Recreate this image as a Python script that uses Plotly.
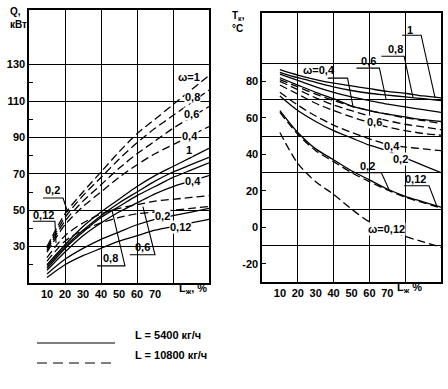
import plotly.graph_objects as go

# ---------------- data ----------------
L_pct = [10, 20, 30, 40, 50, 60, 70, 80, 90, 100]
x_ticks = [10, 20, 30, 40, 50, 60, 70]
q_ticks = [30, 50, 70, 90, 110, 130]
t_ticks = [-20, 0, 20, 40, 60, 80]

# Q, kW  (solid: L = 5400 kg/h)
q5400_w1 = [20, 31, 41, 49, 56, 63, 69, 74, 79, 84]
q5400_w08 = [19, 30, 39, 47, 54, 60, 66, 71, 75, 79]
q5400_w06 = [18, 29, 38, 46, 52, 58, 63, 68, 72, 76]
q5400_w04 = [17, 27, 36, 43, 49, 54, 59, 63, 66, 69]
q5400_w02 = [15, 23, 29, 34, 38, 42, 45, 47, 49, 51]
q5400_w012 = [13, 20, 25, 29, 33, 36, 39, 41, 43, 45]
# Q, kW  (dashed: L = 10800 kg/h)
q10800_w1 = [30, 48, 60, 71, 82, 92, 100, 108, 116, 124]
q10800_w08 = [29, 46, 58, 68, 78, 87, 95, 102, 109, 116]
q10800_w06 = [28, 44, 55, 64, 73, 81, 88, 95, 101, 107]
q10800_w04 = [27, 42, 52, 60, 68, 75, 81, 86, 91, 96]
q10800_w02 = [24, 36, 43, 48, 51, 53, 55, 56, 57, 58]
q10800_w012 = [22, 33, 39, 43, 46, 48, 49, 50, 51, 52]

# T_k, °C  (solid: L = 5400 kg/h)
t5400_w1 = [86.5, 83.5, 81, 79, 77.5, 76, 74.5, 73.5, 72, 71]
t5400_w08 = [85, 82, 79.5, 77, 75, 73.5, 72.5, 71.5, 70.5, 69.5]
t5400_w06 = [84, 80.5, 77, 74, 71.5, 69.5, 67.5, 66, 64.5, 63]
t5400_w04 = [82, 78, 74, 70.5, 66.5, 64, 62, 60.5, 59, 58]
t5400_w02 = [72, 64, 58, 53, 49, 45, 42, 38, 34, 30]
t5400_w012 = [64, 52, 43, 37, 31, 26, 21, 17, 14, 11]
# T_k, °C  (dashed: L = 10800 kg/h)
t10800_w1 = [81, 77, 73, 69.5, 66.5, 64, 62, 60, 58.5, 57]
t10800_w08 = [80, 75.5, 71, 67, 64, 61, 58.5, 56.5, 55, 53.5]
t10800_w06 = [78, 73, 68, 64, 60.5, 57.5, 55, 53, 51.5, 50.5]
t10800_w04 = [74, 67, 61, 56, 52, 48.5, 45.5, 44, 43, 42]
t10800_w02 = [63, 51, 42, 36, 30, 25, 20.5, 16.5, 13.5, 10.5]
t10800_w012 = [52, 35, 25, 18, 10, 3, -1, -5, -8, -11]

# ---------------- figure ----------------
INK = "black"
FONT = "Liberation Sans Narrow, Liberation Sans, Arial, sans-serif"
DASH = "8px,4px"
GRID_W = 1.0

fig = go.Figure()


def add_curve(ys, dash, xa, ya):
    fig.add_trace(go.Scatter(
        x=L_pct, y=ys, mode="lines", xaxis=xa, yaxis=ya,
        line=dict(color=INK, width=1.3, dash=dash, shape="spline", smoothing=0.8),
        showlegend=False, hoverinfo="skip"))


for ys in [q5400_w1, q5400_w08, q5400_w06, q5400_w04, q5400_w02, q5400_w012]:
    add_curve(ys, "solid", "x", "y")
for ys in [q10800_w1, q10800_w08, q10800_w06, q10800_w04, q10800_w02, q10800_w012]:
    add_curve(ys, DASH, "x", "y")
for ys in [t5400_w1, t5400_w08, t5400_w06, t5400_w04, t5400_w02, t5400_w012]:
    add_curve(ys, "solid", "x2", "y2")
for ys in [t10800_w1, t10800_w08, t10800_w06, t10800_w04, t10800_w02, t10800_w012]:
    add_curve(ys, DASH, "x2", "y2")

tickfont = dict(family=FONT, size=11, color=INK, weight="bold")


def xaxis(domain, anchor):
    return dict(domain=domain, anchor=anchor, range=[0, 100],
                tickmode="array", tickvals=x_ticks, ticktext=[str(v) for v in x_ticks],
                showgrid=False, ticks="", zeroline=False,
                showline=True, mirror=True, linecolor=INK, linewidth=1.6,
                tickfont=tickfont, automargin=False,
                minor=dict(tickmode="array", tickvals=[20, 40, 60, 80], showgrid=True,
                           gridcolor=INK, gridwidth=GRID_W, ticks=""))


fig.update_layout(
    width=448, height=389,
    margin=dict(l=0, r=0, t=0, b=0),
    paper_bgcolor="white", plot_bgcolor="white",
    font=dict(family=FONT, color=INK),
    xaxis=xaxis([29 / 448, 209 / 448], "y"),
    xaxis2=xaxis([262 / 448, 441 / 448], "y2"),
    yaxis=dict(domain=[1 - 283 / 389, 1 - 10 / 389], anchor="x", range=[10, 160],
               tickmode="array", tickvals=q_ticks, ticktext=[str(v) for v in q_ticks],
               showgrid=True, gridcolor=INK, gridwidth=GRID_W, ticks="", zeroline=False,
               showline=True, mirror=True, linecolor=INK, linewidth=1.6,
               tickfont=tickfont, automargin=False,
               minor=dict(tickmode="array", tickvals=[20, 40, 60, 80, 100, 120],
                          ticks="inside", ticklen=4, tickcolor=INK, showgrid=False)),
    yaxis2=dict(domain=[1 - 282 / 389, 1 - 13 / 389], anchor="x2", range=[-30, 117.5],
                tickmode="array", tickvals=t_ticks, ticktext=[str(v) for v in t_ticks],
                showgrid=False, ticks="inside", ticklen=4, tickcolor=INK, zeroline=False,
                showline=True, mirror=True, linecolor=INK, linewidth=1.6,
                tickfont=tickfont, automargin=False,
                minor=dict(tickmode="array", tickvals=[-10, 10, 30, 50, 70, 90],
                           showgrid=True, gridcolor=INK, gridwidth=GRID_W, ticks="")),
)

lab_font = dict(family=FONT, size=11, color=INK, weight="bold")

# in-line curve labels (break the line)
inline_labels = [
    ("x", "y", "ω=1", 89, 123), ("x", "y", "0,8", 91, 112), ("x", "y", "0,6", 90.5, 103),
    ("x", "y", "0,4", 89.5, 91), ("x", "y", "1", 89, 83), ("x", "y", "0,4", 91, 66),
    ("x", "y", "0,2", 74, 47), ("x", "y", "0,12", 84, 40.5),
    ("x2", "y2", "0,6", 62.8, 57.8), ("x2", "y2", "0,4", 72.8, 44.6),
    ("x2", "y2", "0,2", 77.5, 37.5), ("x2", "y2", "ω=0,12", 69.5, -1),
]
for xr, yr, txt, xv, yv in inline_labels:
    fig.add_annotation(xref=xr, yref=yr, x=xv, y=yv, text=txt, showarrow=False,
                       font=lab_font, bgcolor="white", borderpad=0)

# leader labels: text, text pos, underline (x0, x1, y), leader end point
leader_labels = [
    ("x", "y", "0,2", 13, 61, 7.8, 18.9, 56.7, 21.5, 49),
    ("x", "y", "0,12", 8, 47.5, 2.2, 14.4, 43.9, 15, 32),
    ("x", "y", "0,8", 45, 23.5, 37.8, 53.3, 19.4, 46, 50.5),
    ("x", "y", "0,6", 63, 30, 56, 70, 25.5, 63.3, 52),
    ("x2", "y2", "0,6", 59.4, 91, 52.8, 65.6, 87.3, 69.4, 69.8),
    ("x2", "y2", "0,8", 74.4, 97.5, 66.7, 79.4, 93.8, 84.4, 70.9),
    ("x2", "y2", "1", 82.8, 108, 78.3, 88.9, 105.3, 96.7, 70.9),
    ("x2", "y2", "0,2", 59, 33.5, 54.4, 66.7, 29.9, 71, 20.6),
    ("x2", "y2", "0,12", 86, 26.5, 79.4, 93.3, 22.8, 97.8, 11.3),
]
for xr, yr, txt, tx, ty, u0, u1, uy, ex, ey in leader_labels:
    fig.add_annotation(xref=xr, yref=yr, x=tx, y=ty, text=txt, showarrow=False, font=lab_font)
    fig.add_shape(type="path", xref=xr, yref=yr,
                  path=f"M {u0},{uy} L {u1},{uy} L {ex},{ey}",
                  line=dict(color=INK, width=1.1))

# ω=0,4 label with underline under the value only
fig.add_annotation(xref="x2", yref="y2", x=32, y=86.5, text="ω=0,4", showarrow=False, font=lab_font)
fig.add_shape(type="path", xref="x2", yref="y2",
              path="M 36.7,81.8 L 47.8,81.8 L 51,65.4", line=dict(color=INK, width=1.1))

title_font = dict(family=FONT, size=10, color=INK, weight="bold")
# axis titles
fig.add_annotation(xref="paper", yref="paper", x=8 / 448, y=1 - 4 / 389, xanchor="left", yanchor="top",
                   text="Q,<br>кВт", showarrow=False, align="left", font=title_font)
fig.add_annotation(xref="paper", yref="paper", x=230 / 448, y=1 - 8 / 389, xanchor="left", yanchor="top",
                   text="T<sub>к</sub>,<br>°C", showarrow=False, align="left", font=title_font)
fig.add_annotation(xref="paper", yref="paper", x=193 / 448, y=1 - 298 / 389,
                   text="L<sub>ж</sub>, %", showarrow=False, font=lab_font)
fig.add_annotation(xref="paper", yref="paper", x=424 / 448, y=1 - 297 / 389,
                   text="L<sub>ж</sub> %", showarrow=False, font=lab_font)

# key
fig.add_shape(type="line", xref="paper", yref="paper", x0=37 / 448, x1=115 / 448,
              y0=1 - 343 / 389, y1=1 - 343 / 389, line=dict(color=INK, width=1.2))
fig.add_shape(type="line", xref="paper", yref="paper", x0=37 / 448, x1=115 / 448,
              y0=1 - 363 / 389, y1=1 - 363 / 389, line=dict(color=INK, width=1.2, dash="10px,6px"))
fig.add_annotation(xref="paper", yref="paper", x=133 / 448, y=1 - 343 / 389, xanchor="left",
                   text="L = 5400 кг/ч", showarrow=False, font=lab_font)
fig.add_annotation(xref="paper", yref="paper", x=133 / 448, y=1 - 363 / 389, xanchor="left",
                   text="L = 10800 кг/ч", showarrow=False, font=lab_font)

fig.write_html("out.html", config={"displayModeBar": False, "staticPlot": True},
               post_script="document.body.style.margin='0';document.body.style.overflow='hidden';")
